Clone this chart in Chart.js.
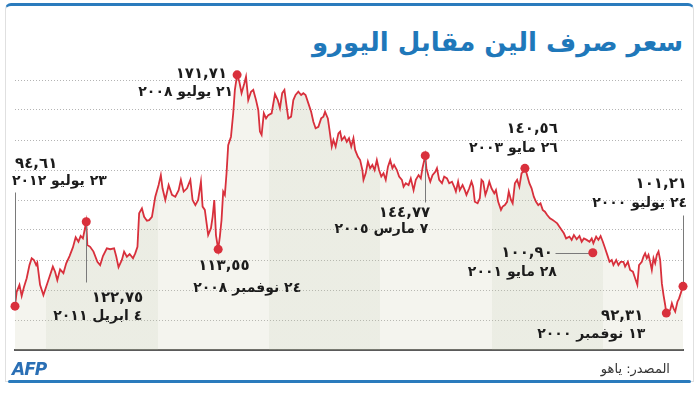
<!DOCTYPE html>
<html lang="ar">
<head>
<meta charset="utf-8">
<script src="https://cdn.jsdelivr.net/npm/chart.js@4.4.0/dist/chart.umd.min.js"></script>
<style>
  html, body { margin: 0; padding: 0; background: #fff; }
  body { width: 700px; height: 393px; position: relative; overflow: hidden; font-family: 'DejaVu Sans', sans-serif; }
  .card { position: absolute; left: 5px; top: 3px; width: 689px; height: 379px; box-sizing: border-box;
          border: 1px solid #e0e0e0; border-top: 3px solid #2a7bbd; border-radius: 6px 6px 0 0; }
  .bottom-bar { position: absolute; left: 8px; top: 380px; width: 683px; height: 3px; background: #2a7bbd; border-radius: 2px; }
  .title { position: absolute; right: 17px; top: 27px; direction: rtl; font: bold 26px 'DejaVu Sans'; color: #1f78ba; }
  .afp { position: absolute; left: 12px; top: 359px; font: italic bold 17px 'DejaVu Sans'; color: #2a6fb5; letter-spacing: -1px; }
  .source { position: absolute; right: 30px; top: 361px; direction: rtl; font: 13px 'DejaVu Sans'; color: #333; }
  #chart { position: absolute; left: 0; top: 0; }
</style>
</head>
<body>
<div class="card"></div>
<div class="bottom-bar"></div>
<div class="title">سعر صرف الين مقابل اليورو</div>
<canvas id="chart" width="700" height="393"></canvas>
<div class="afp">AFP</div>
<div class="source">المصدر: ياهو</div>

<script>
// weekly-ish readings, newest (left) to oldest (right), decimal years
const dates = [
  2012.56, 2012.53, 2012.48, 2012.44, 2012.40, 2012.35, 2012.30, 2012.26, 2012.22, 2012.18, 2012.16, 2012.11, 2012.05, 2012.00,
  2011.94, 2011.88, 2011.84, 2011.80, 2011.75, 2011.69, 2011.64, 2011.58, 2011.52, 2011.47, 2011.42, 2011.38, 2011.34, 2011.28,
  2011.26, 2011.21, 2011.15, 2011.08, 2011.03, 2010.98, 2010.91, 2010.85, 2010.78, 2010.74, 2010.70, 2010.64, 2010.60, 2010.55,
  2010.50, 2010.44, 2010.40, 2010.36, 2010.33, 2010.28, 2010.24, 2010.19, 2010.15, 2010.10, 2010.04, 2009.98, 2009.94, 2009.91,
  2009.86, 2009.80, 2009.74, 2009.68, 2009.62, 2009.58, 2009.53, 2009.47, 2009.41, 2009.37, 2009.32, 2009.27, 2009.22, 2009.19,
  2009.15, 2009.11, 2009.09, 2009.04, 2009.01, 2008.98, 2008.95, 2008.91, 2008.88, 2008.85, 2008.82, 2008.79, 2008.76, 2008.73,
  2008.68, 2008.64, 2008.61, 2008.57, 2008.53, 2008.49, 2008.44, 2008.41, 2008.37, 2008.32, 2008.28, 2008.23, 2008.19, 2008.16,
  2008.13, 2008.09, 2008.05, 2008.01, 2007.95, 2007.89, 2007.84, 2007.80, 2007.76, 2007.72, 2007.68, 2007.65, 2007.60, 2007.56,
  2007.52, 2007.47, 2007.42, 2007.38, 2007.34, 2007.29, 2007.24, 2007.20, 2007.16, 2007.11, 2007.06, 2007.02, 2006.99, 2006.94,
  2006.91, 2006.87, 2006.84, 2006.80, 2006.75, 2006.72, 2006.69, 2006.64, 2006.60, 2006.56, 2006.52, 2006.48, 2006.45, 2006.40,
  2006.36, 2006.32, 2006.30, 2006.26, 2006.22, 2006.18, 2006.14, 2006.10, 2006.06, 2006.02, 2005.98, 2005.94, 2005.90, 2005.86,
  2005.82, 2005.78, 2005.75, 2005.70, 2005.66, 2005.61, 2005.58, 2005.54, 2005.49, 2005.45, 2005.40, 2005.36, 2005.31, 2005.27,
  2005.24, 2005.19, 2005.17, 2005.13, 2005.10, 2005.06, 2005.01, 2004.98, 2004.94, 2004.89, 2004.85, 2004.80, 2004.76, 2004.71,
  2004.67, 2004.64, 2004.60, 2004.57, 2004.52, 2004.48, 2004.45, 2004.40, 2004.36, 2004.33, 2004.30, 2004.25, 2004.21, 2004.18,
  2004.15, 2004.11, 2004.08, 2004.04, 2004.00, 2003.95, 2003.92, 2003.88, 2003.83, 2003.80, 2003.76, 2003.72, 2003.69, 2003.65,
  2003.62, 2003.58, 2003.54, 2003.50, 2003.46, 2003.43, 2003.40, 2003.37, 2003.32, 2003.28, 2003.24, 2003.20, 2003.16, 2003.12,
  2003.08, 2003.04, 2003.00, 2002.95, 2002.90, 2002.86, 2002.82, 2002.78, 2002.74, 2002.70, 2002.66, 2002.60, 2002.56, 2002.52,
  2002.47, 2002.42, 2002.38, 2002.34, 2002.29, 2002.24, 2002.20, 2002.17, 2002.12, 2002.08, 2002.04, 2002.00, 2001.96, 2001.92,
  2001.88, 2001.84, 2001.81, 2001.76, 2001.72, 2001.68, 2001.63, 2001.60, 2001.55, 2001.51, 2001.46, 2001.42, 2001.38, 2001.35,
  2001.30, 2001.27, 2001.24, 2001.21, 2001.18, 2001.15, 2001.12, 2001.09, 2001.06, 2001.03, 2001.00, 2000.97, 2000.94, 2000.91,
  2000.88, 2000.86, 2000.79, 2000.76, 2000.73, 2000.70, 2000.66, 2000.63, 2000.56
];
const rates = [
  94.61, 99.4, 101.7, 98.0, 100.9, 103.9, 108.3, 110.6, 110.0, 108.3, 109.1, 101.7, 98.3, 101.1,
  104.4, 107.8, 106.1, 103.3, 106.9, 105.6, 108.9, 111.3, 114.2, 117.6, 116.1, 118.0, 117.2, 122.75,
  115.0, 114.4, 112.8, 109.4, 108.3, 111.3, 113.9, 113.6, 113.9, 111.1, 107.6, 110.0, 112.8, 111.1,
  112.0, 110.6, 112.2, 114.4, 125.6, 127.2, 124.4, 123.1, 123.3, 124.4, 131.1, 135.0, 138.3, 133.9,
  130.0, 135.0, 131.7, 131.1, 133.3, 136.7, 132.8, 133.9, 136.7, 130.0, 128.3, 130.0, 136.1, 127.8,
  126.7, 121.1, 118.3, 120.6, 124.4, 130.0, 118.3, 113.55, 117.8, 123.3, 132.8, 131.7, 138.9, 148.3,
  151.1, 158.9, 166.7, 171.71, 169.4, 165.6, 168.9, 171.1, 163.3, 166.1, 166.7, 163.3, 160.0, 152.8,
  151.7, 158.9, 157.2, 158.3, 158.9, 165.3, 163.3, 160.6, 165.6, 166.7, 161.1, 157.2, 157.8, 163.3,
  165.0, 166.1, 165.0, 165.6, 165.0, 162.2, 159.4, 156.1, 153.9, 154.4, 157.2, 157.8, 159.4, 157.2,
  153.3, 147.8, 150.0, 147.8, 152.2, 152.8, 150.0, 151.1, 149.4, 150.6, 147.8, 150.6, 146.7, 144.4,
  143.3, 140.0, 136.7, 138.9, 142.8, 140.6, 141.7, 140.0, 143.3, 140.0, 137.8, 138.9, 136.7, 141.1,
  143.3, 140.6, 141.7, 140.0, 137.8, 136.7, 134.4, 135.6, 135.0, 137.2, 133.3, 136.7, 138.3, 137.2,
  140.6, 144.77, 140.6, 137.8, 136.1, 138.3, 139.4, 140.6, 136.7, 135.6, 137.8, 137.2, 135.6, 136.1,
  134.4, 132.8, 136.1, 133.3, 135.0, 133.3, 131.7, 133.9, 136.1, 134.4, 129.4, 128.9, 130.6, 136.7,
  136.1, 131.7, 133.3, 136.1, 133.9, 132.2, 133.3, 129.4, 126.7, 127.8, 128.3, 129.4, 132.8, 130.0,
  128.9, 135.6, 136.7, 134.4, 138.9, 139.4, 140.56, 138.9, 135.6, 133.9, 131.1, 129.4, 128.3, 128.9,
  126.7, 126.1, 125.0, 123.9, 123.3, 122.8, 122.2, 121.1, 120.0, 118.9, 117.2, 117.8, 116.7, 118.3,
  116.9, 118.0, 116.1, 117.2, 116.7, 116.1, 117.2, 115.6, 117.8, 116.7, 118.0, 116.1, 113.9, 111.7,
  109.4, 110.0, 108.3, 110.0, 108.3, 109.4, 109.4, 107.8, 109.4, 106.7, 106.1, 103.9, 101.7, 108.3,
  109.4, 111.1, 112.2, 110.6, 111.7, 109.4, 106.7, 110.6, 108.9, 111.7, 112.8, 110.0, 102.2, 98.3,
  95.0, 92.31, 93.3, 95.6, 93.9, 92.8, 96.1, 97.2, 101.21
];

// highlighted points
const markerDates = [2012.56, 2011.28, 2008.91, 2008.57, 2005.19, 2003.40, 2002.18, 2000.86, 2000.56];
const markerRates = [94.61, 122.75, 113.55, 171.71, 144.77, 140.56, 112.4, 92.31, 101.21];
const markerValues = ['٩٤,٦١', '١٢٢,٧٥', '١١٣,٥٥', '١٧١,٧١', '١٤٤,٧٧', '١٤٠,٥٦', '١٠٠,٩٠', '٩٢,٣١', '١٠١,٢١'];
const markerDays = ['٢٣ يوليو ٢٠١٢', '٤ ابريل ٢٠١١', '٢٤ نوفمبر ٢٠٠٨', '٢١ يوليو ٢٠٠٨', '٧ مارس ٢٠٠٥',
                    '٢٦ مايو ٢٠٠٣', '٢٨ مايو ٢٠٠١', '١٣ نوفمبر ٢٠٠٠', '٢٤ يوليو ٢٠٠٠'];

const gridValues = [90, 100, 110, 120, 130, 140, 150, 160, 170];
const shadedYears = [[2010, 2012], [2006, 2008], [2002, 2004]];

// label placement relative to each marker (pixels)
const noteLayout = [
  { align: 'left',  v: [0, -138],  d: [-3, -121], lead: [0, -114] },
  { align: 'right', v: [57, 80],   d: [56, 98],   lead: [0, 60] },
  { align: 'left',  v: [-20, 21],  d: [-25, 43] },
  { align: 'right', v: [-10, 3],   d: [-4, 21] },
  { align: 'right', v: [5, 61],    d: [3, 77],    lead: [0, 46] },
  { align: 'right', v: [33, -35],  d: [33, -16] },
  { align: 'right', v: [-40, 4],   d: [-36, 23],  lead: [-38, 0] },
  { align: 'right', v: [-23, 7],   d: [-21, 25] },
  { align: 'right', v: [4, -98],   d: [4, -79],   lead: [0, -71] }
];

const xMin = 2000.56, xMax = 2012.56;
const lightBand = 'rgba(200, 200, 170, 0.2)';
const darkBand = 'rgba(190, 195, 165, 0.3)';

function bandFill(context) {
  const chart = context.chart;
  const { chartArea, scales } = chart;
  if (!chartArea || !scales.x) return lightBand;
  const w = chartArea.right - chartArea.left;
  const off = yr => Math.min(1, Math.max(0, (scales.x.getPixelForValue(yr) - chartArea.left) / w));
  const g = chart.ctx.createLinearGradient(chartArea.left, 0, chartArea.right, 0);
  // walk from the newest year (left) to the oldest (right)
  const edges = [xMax, 2012, 2010, 2008, 2006, 2004, 2002, xMin];
  for (let i = 0; i < edges.length - 1; i++) {
    const hi = edges[i], lo = edges[i + 1];
    const dark = shadedYears.some(([a, b]) => lo >= a && hi <= b);
    const c = dark ? darkBand : lightBand;
    g.addColorStop(off(hi), c);
    g.addColorStop(off(lo), c);
  }
  return g;
}

const notesPlugin = {
  id: 'notes',
  afterDatasetDraw(chart, args) {
    if (args.index !== 0) return;
    const { ctx, scales: { x, y } } = chart;
    ctx.save();
    markerDates.forEach((d, i) => {
      const mx = x.getPixelForValue(d);
      const my = y.getPixelForValue(markerRates[i]);
      const n = noteLayout[i];
      if (n.lead) {
        ctx.strokeStyle = '#7a7a7a';
        ctx.lineWidth = 1;
        ctx.beginPath();
        ctx.moveTo(Math.round(mx + n.lead[0]) + 0.5, Math.round(my + n.lead[1]) + 0.5);
        ctx.lineTo(Math.round(mx) + 0.5, Math.round(my) + 0.5);
        ctx.stroke();
      }
      ctx.fillStyle = '#1c1c1c';
      ctx.direction = 'rtl';
      ctx.textAlign = n.align;
      ctx.textBaseline = 'alphabetic';
      ctx.font = 'bold 15px "DejaVu Sans"';
      ctx.fillText(markerValues[i], mx + n.v[0], my + n.v[1]);
      ctx.font = 'bold 14px "DejaVu Sans"';
      ctx.fillText(markerDays[i], mx + n.d[0], my + n.d[1]);
    });
    ctx.restore();
  }
};

new Chart(document.getElementById('chart'), {
  type: 'line',
  data: {
    datasets: [{
      data: dates.map((d, i) => ({ x: d, y: rates[i] })),
      borderColor: '#d8303c',
      borderWidth: 1.8,
      backgroundColor: bandFill,
      fill: 'start',
      pointRadius: 0,
      tension: 0,
      order: 2
    }, {
      data: markerDates.map((d, i) => ({ x: d, y: markerRates[i] })),
      showLine: false,
      pointRadius: 4.5,
      pointBackgroundColor: '#d9303c',
      pointBorderColor: '#d9303c',
      pointBorderWidth: 0,
      clip: false,
      order: 1
    }]
  },
  options: {
    responsive: false,
    animation: false,
    events: [],
    layout: { padding: { left: 15, right: 17, top: 62, bottom: 43 } },
    plugins: { legend: { display: false }, tooltip: { enabled: false } },
    scales: {
      x: {
        type: 'linear',
        reverse: true,
        min: xMin,
        max: xMax,
        ticks: { display: false },
        grid: { display: false, drawTicks: false },
        border: { display: true, color: '#5a5a5a', width: 2 }
      },
      y: {
        min: 80,
        max: 176,
        afterBuildTicks: s => { s.ticks = gridValues.map(v => ({ value: v })); },
        ticks: { display: false },
        grid: { color: '#b4b4b4', lineWidth: 1, drawTicks: false },
        border: { display: false, dash: [1, 2] }
      }
    }
  },
  plugins: [notesPlugin]
});
</script>
</body>
</html>
